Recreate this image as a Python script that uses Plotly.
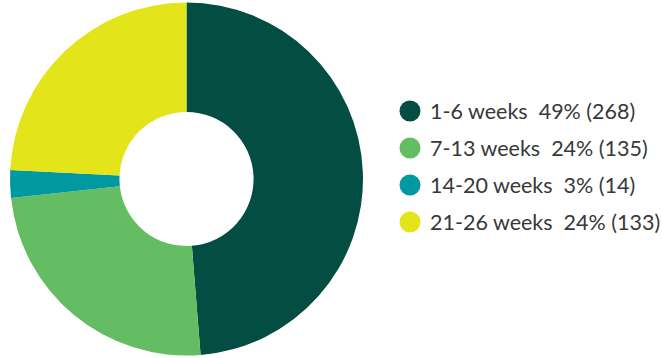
import plotly.graph_objects as go

# Duration bands and counts
categories = ["1-6 weeks", "7-13 weeks", "14-20 weeks", "21-26 weeks"]
counts = [268, 135, 14, 133]
pct_labels = ["49%", "24%", "3%", "24%"]
colors = ["#034D42", "#64BD62", "#0099A0", "#E4E41A"]

W, H = 662, 358

fig = go.Figure()

# Donut, starting at 12 o'clock and running clockwise
cx, r = 186.5, 176.5
fig.add_trace(go.Pie(
    labels=categories,
    values=counts,
    hole=0.38,
    sort=False,
    direction="clockwise",
    rotation=0,
    marker=dict(colors=colors, line=dict(width=0)),
    textinfo="none",
    hoverinfo="label+value+percent",
    showlegend=False,
    domain=dict(x=[(cx - r) / W, (cx + r) / W], y=[0, 1]),
))

# Custom legend: circle markers with text beside them
leg_x, leg_y0, leg_dy = 410, 111, 37
leg_y = [leg_y0 + i * leg_dy for i in range(len(categories))]
fig.add_trace(go.Scatter(
    x=[leg_x] * len(categories),
    y=leg_y,
    mode="markers",
    marker=dict(size=21, color=colors, line=dict(width=0)),
    hoverinfo="skip",
    showlegend=False,
))

for cat, n, p, y in zip(categories, counts, pct_labels, leg_y):
    fig.add_annotation(
        x=leg_x + 18, y=y, xref="x", yref="y",
        text=f"{cat}\u00a0\u00a0{p}\u00a0({n})",
        showarrow=False, xanchor="left", yanchor="middle",
        font=dict(family="Lato", size=21.5, color="#383838"),
    )

fig.update_layout(
    width=W, height=H,
    margin=dict(l=0, r=0, t=0, b=0),
    paper_bgcolor="white", plot_bgcolor="white",
    xaxis=dict(range=[0, W], visible=False, fixedrange=True),
    yaxis=dict(range=[H, 0], visible=False, fixedrange=True),
)

fig.write_html("out.html")
